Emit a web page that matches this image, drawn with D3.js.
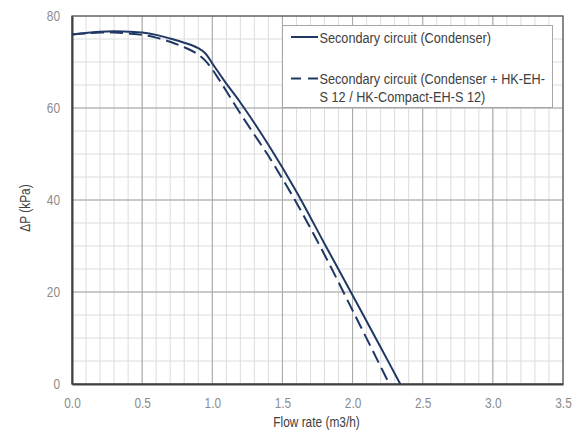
<!DOCTYPE html>
<html><head><meta charset="utf-8">
<script src="https://cdn.jsdelivr.net/npm/d3@7"></script>
<style>body{margin:0;background:#fff}svg{display:block}text{font-family:"Liberation Sans Narrow","Arial Narrow","Liberation Sans",Arial,sans-serif}</style>
</head><body>
<svg id="c" width="587" height="432"></svg>
<script>
const xTicks = [0, 0.5, 1.0, 1.5, 2.0, 2.5, 3.0, 3.5];
const yTicks = [0, 20, 40, 60, 80];
const flowSolid = [0, 0.1, 0.2, 0.3, 0.4, 0.5, 0.6, 0.7, 0.8, 0.85, 0.9, 0.95, 1.0, 1.05, 1.1, 1.2, 1.4, 1.6, 1.8, 2.0, 2.2, 2.34];
const dpSolid   = [76.0, 76.3, 76.6, 76.7, 76.6, 76.4, 75.9, 75.1, 74.2, 73.7, 73.0, 71.9, 69.7, 67.5, 65.3, 61.2, 52.0, 41.8, 30.5, 19.3, 8.0, 0];
const flowDashed = [0, 0.1, 0.2, 0.3, 0.4, 0.5, 0.6, 0.7, 0.8, 0.85, 0.9, 0.95, 1.0, 1.05, 1.1, 1.2, 1.3, 1.4, 1.6, 1.8, 2.0, 2.2, 2.262];
const dpDashed   = [76.0, 76.2, 76.4, 76.4, 76.2, 75.9, 75.3, 74.4, 73.2, 72.5, 71.6, 70.3, 68.4, 66.1, 63.7, 58.8, 54.2, 49.6, 39.4, 28.1, 16.0, 3.8, 0];
const seriesNames = ["Secondary circuit (Condenser)", ["Secondary circuit (Condenser + HK-EH-", "S 12 / HK-Compact-EH-S 12)"]];

const svg = d3.select("#c");
const L = 72, R = 563, T = 16, B = 384;
const x = d3.scaleLinear().domain([0, 3.5]).range([L, R]);
const y = d3.scaleLinear().domain([0, 80]).range([B, T]);
const navy = "#1f3864";
const SX = 0.82; // horizontal squeeze to imitate a narrow face

// minor grid
const g = svg.append("g");
g.selectAll(".vx").data(d3.range(0, 35).map(i => i / 10)).enter().append("line")
  .attr("x1", d => x(d)).attr("x2", d => x(d)).attr("y1", T).attr("y2", B)
  .attr("stroke", "#dcdcdc").attr("stroke-width", 1);
g.selectAll(".hy").data(d3.range(0, 16).map(i => i * 5)).enter().append("line")
  .attr("y1", d => y(d)).attr("y2", d => y(d)).attr("x1", L).attr("x2", R)
  .attr("stroke", "#dcdcdc").attr("stroke-width", 1);
// major grid
g.selectAll(".mx").data(xTicks).enter().append("line")
  .attr("x1", d => x(d)).attr("x2", d => x(d)).attr("y1", T).attr("y2", B)
  .attr("stroke", "#a6a6a6").attr("stroke-width", 1);
g.selectAll(".my").data(yTicks).enter().append("line")
  .attr("y1", d => y(d)).attr("y2", d => y(d)).attr("x1", L).attr("x2", R)
  .attr("stroke", "#a6a6a6").attr("stroke-width", 1);
// frame
svg.append("rect").attr("x", L).attr("y", T).attr("width", R - L).attr("height", B - T)
  .attr("fill", "none").attr("stroke", "#595959").attr("stroke-width", 1.2);

// axes
const xAxis = svg.append("g").attr("transform", `translate(0,${B})`)
  .call(d3.axisBottom(x).tickValues(xTicks).tickFormat(d3.format(".1f")).tickSize(0).tickPadding(14));
const yAxis = svg.append("g").attr("transform", `translate(${L},0)`)
  .call(d3.axisLeft(y).tickValues(yTicks).tickSize(0).tickPadding(12));
[xAxis, yAxis].forEach(a => {
  a.select(".domain").attr("stroke", "#404040").attr("stroke-width", 2);
  a.selectAll("text").attr("fill", "#8c8c8c").style("font-size", "14.5px").attr("transform", `scale(${SX},1)`);
});
yAxis.selectAll("text").attr("x", -12 / SX);

// lines
const line = d3.line().x(d => x(d[0])).y(d => y(d[1])).curve(d3.curveCatmullRom.alpha(0.5));
svg.append("path").datum(d3.zip(flowSolid, dpSolid)).attr("d", line)
  .attr("fill", "none").attr("stroke", navy).attr("stroke-width", 2);
svg.append("path").datum(d3.zip(flowDashed, dpDashed)).attr("d", line)
  .attr("fill", "none").attr("stroke", navy).attr("stroke-width", 2).attr("stroke-dasharray", "13,6");

// axis titles
svg.append("text").attr("transform", `translate(${(L + R) / 2 - 1},427) scale(${SX},1)`).attr("text-anchor", "middle")
  .attr("fill", "#404040").style("font-size", "14.5px").text("Flow rate (m3/h)");
svg.append("text").attr("transform", `translate(30,208) rotate(-90) scale(${SX},1)`).attr("text-anchor", "middle")
  .attr("fill", "#404040").style("font-size", "14.5px").text("ΔP (kPa)");

// legend
const lg = svg.append("g");
lg.append("rect").attr("x", 282.5).attr("y", 25.5).attr("width", 270).attr("height", 82)
  .attr("fill", "#fff").attr("stroke", "#a6a6a6").attr("stroke-width", 1);
lg.append("line").attr("x1", 291).attr("x2", 318).attr("y1", 37).attr("y2", 37)
  .attr("stroke", navy).attr("stroke-width", 2);
lg.append("line").attr("x1", 291).attr("x2", 318).attr("y1", 78.5).attr("y2", 78.5)
  .attr("stroke", navy).attr("stroke-width", 2).attr("stroke-dasharray", "10,7");
const legText = (s, ty) => lg.append("text").attr("transform", `translate(319.5,${ty}) scale(${SX},1)`)
  .attr("fill", "#404040").style("font-size", "15.5px").text(s);
legText(seriesNames[0], 42.5);
legText(seriesNames[1][0], 84);
legText(seriesNames[1][1], 102);
</script>
</body></html>
